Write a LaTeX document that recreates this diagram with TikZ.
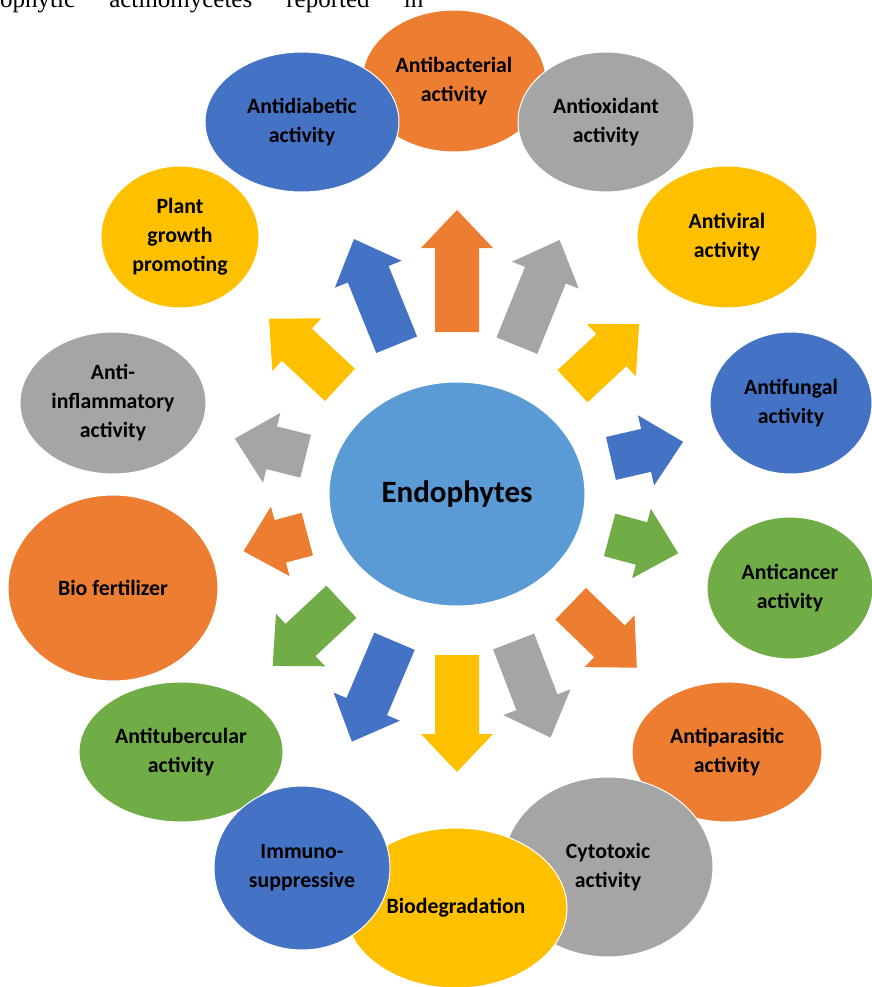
\documentclass[tikz,border=0pt]{standalone}
\usepackage{fontspec}
\usepackage{tikz}
\usetikzlibrary{shapes.geometric}
\setmainfont{Carlito}
\newfontfamily\runningfont{Liberation Serif}
\definecolor{orangecol}{HTML}{ED7D31}
\definecolor{graycol}{HTML}{A5A5A5}
\definecolor{goldcol}{HTML}{FFC000}
\definecolor{bluecol}{HTML}{4472C4}
\definecolor{greencol}{HTML}{70AD47}
\definecolor{skycol}{HTML}{5B9BD5}

\begin{document}
\begin{tikzpicture}[x=1pt, y=-1pt,
  bubble/.style={ellipse, draw=white, line width=1pt, inner sep=0pt, align=center,
    font=\bfseries\fontsize{21.8}{29}\selectfont}]
  \useasboundingbox (0,0) rectangle (871,987);
  % last line of the running text above
  \node[anchor=base west, inner sep=0pt, font=\runningfont\fontsize{25}{30}\selectfont] (runin) at (0,8)
    {\makebox[423pt][s]{ophytic actinomycetes reported in}};
  % outer ring, back to front
  \node[bubble, fill=orangecol, minimum width=184pt, minimum height=142pt] (antibact) at (454,81) {Antibacterial\\activity};
  \node[bubble, fill=bluecol, minimum width=194pt, minimum height=140pt] (antidiab) at (302,122) {Antidiabetic\\activity};
  \node[bubble, fill=graycol, minimum width=176pt, minimum height=140pt] (antiox) at (606,122) {Antioxidant\\activity};
  \node[bubble, fill=goldcol, minimum width=158pt, minimum height=142pt] (plant) at (180,237) {Plant\\growth\\promoting};
  \node[bubble, fill=goldcol, minimum width=180pt, minimum height=142pt] (antiviral) at (727,237) {Antiviral\\activity};
  \node[bubble, fill=graycol, minimum width=186pt, minimum height=142pt] (antiinfl) at (113,403) {Anti-\\inflammatory\\activity};
  \node[bubble, fill=bluecol, minimum width=162pt, minimum height=142pt] (antifung) at (791,403) {Antifungal\\activity};
  \node[bubble, fill=orangecol, minimum width=210pt, minimum height=186pt] (biofert) at (113,588) {Bio fertilizer};
  \node[bubble, fill=greencol, minimum width=166pt, minimum height=142pt] (anticanc) at (790,588) {Anticancer\\activity};
  \node[bubble, fill=orangecol, minimum width=190pt, minimum height=140pt] (antipara) at (727,752) {Antiparasitic\\activity};
  \node[bubble, fill=graycol, minimum width=210pt, minimum height=180pt] (cytotox) at (608,867) {Cytotoxic\\activity};
  \node[bubble, fill=goldcol, minimum width=222pt, minimum height=160pt] (biodeg) at (456,908) {Biodegradation};
  \node[bubble, fill=greencol, minimum width=204pt, minimum height=140pt] (antitub) at (181,752) {Antitubercular\\activity};
  \node[bubble, fill=bluecol, minimum width=176pt, minimum height=164pt] (immuno) at (302,868) {Immuno-\\suppressive};
  % hub
  \node[bubble, fill=skycol, minimum width=256pt, minimum height=224pt,
    font=\bfseries\fontsize{31}{37}\selectfont] (endo) at (457,494) {Endophytes};
  % block arrows: angle / start radius / length / colour
  \foreach \ang/\rin/\len/\col in {90/162/122/orangecol, 68/160/114/graycol, 43/158/91/goldcol,
      13/158/74/bluecol, -15/158/71/greencol, -44/158/92/orangecol, -69/158/103/graycol,
      -90/161/117/goldcol, -113/160/109/bluecol, -137/158/94/greencol, -165/155/66/orangecol,
      166/156/73/graycol, 137/160/97/goldcol, 112/161/114/bluecol}
    \fill[\col, shift={(endo.center)}, rotate=\ang]
      (\rin,-22) -- (\rin+\len-38,-22) -- (\rin+\len-38,-36) -- (\rin+\len,0)
      -- (\rin+\len-38,36) -- (\rin+\len-38,22) -- (\rin,22) -- cycle;
\end{tikzpicture}
\end{document}
